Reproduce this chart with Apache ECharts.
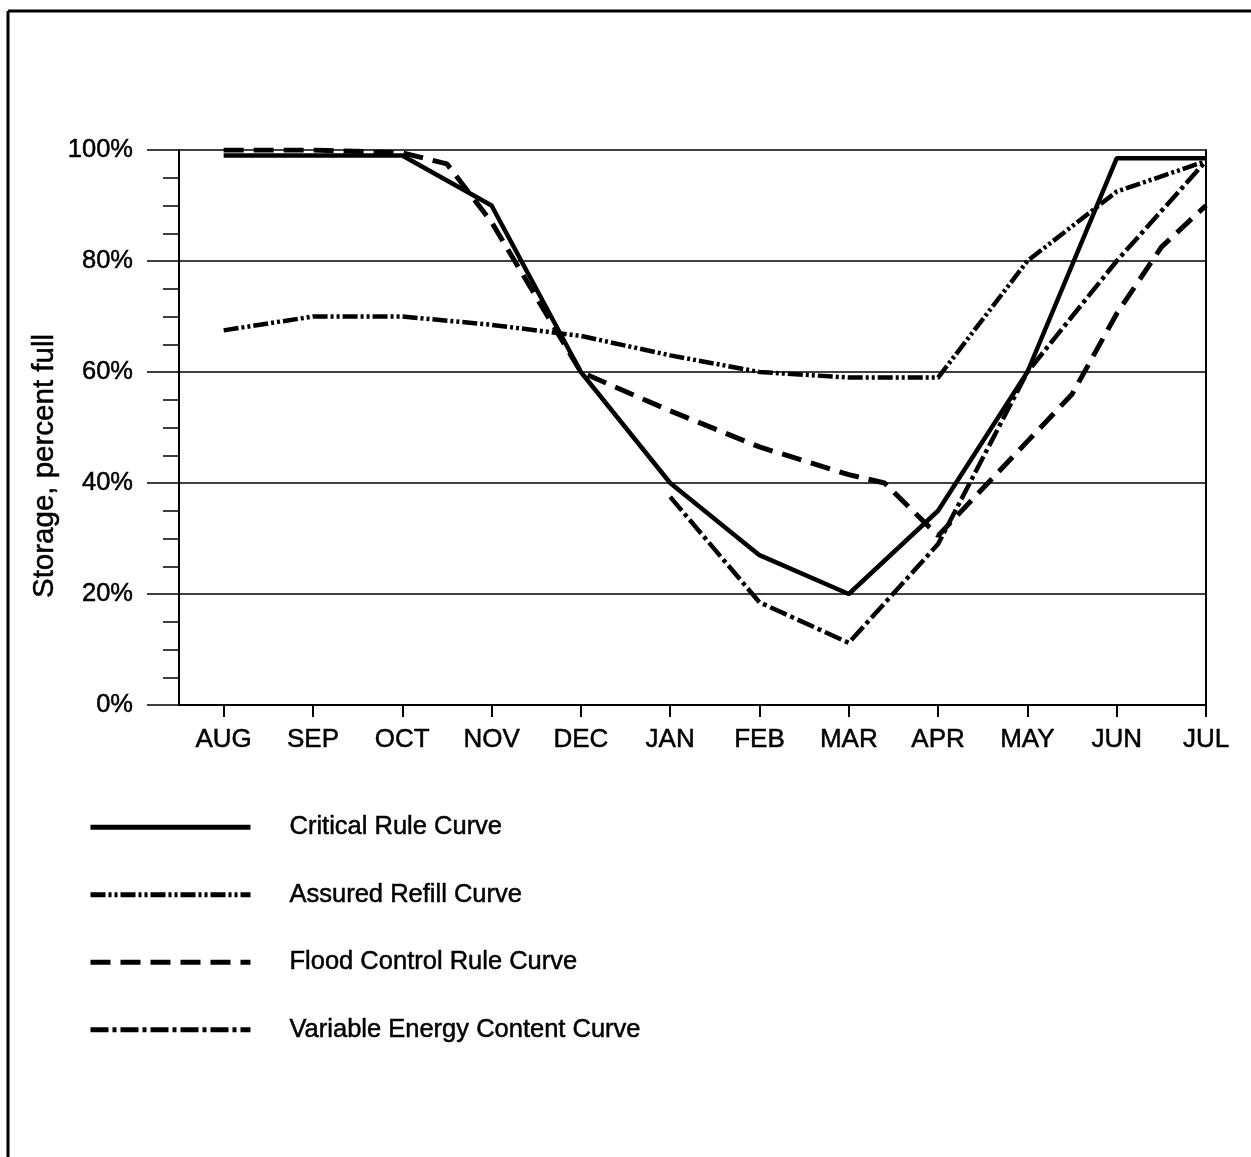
<!DOCTYPE html>
<html>
<head>
<meta charset="utf-8">
<script src="https://cdn.jsdelivr.net/npm/echarts@6/dist/echarts.min.js"></script>
<style>
html,body{margin:0;padding:0;background:#fff;}
#chart{width:1251px;height:1157px;}
</style>
</head>
<body>
<div id="chart"></div>
<script>
// ---- data ----
const months = ['AUG','SEP','OCT','NOV','DEC','JAN','FEB','MAR','APR','MAY','JUN','JUL'];
const monthIdx = [0,1,2,3,4,5,6,7,8,9,10,11];

const criticalRule = [99,99,99,90,60,40,27,20,35,60,98.5,98.5];
const assuredRefill = [67.5,70,70,68.5,66.5,63,60,59,59,80,92.5,98];
// flood control curve: positions in months (0 = AUG) and values
const floodPos = [0,1,2,2.5,3,4,5,6,7,7.4,8,9,9.5,10,10.5,11];
const floodVal = [100,100,99.5,97.5,87,60,53,46.5,41.5,40,30.5,47.5,56,70.5,82.5,90];
// variable energy content curve: JAN..JUL
const vecPos = [5,6,7,8,9,10,11];
const vecVal = [37.5,18.5,11.2,29,60,80,98];

const seriesNames = ['Critical Rule Curve','Assured Refill Curve','Flood Control Rule Curve','Variable Energy Content Curve'];

const pairs = (xs, ys) => xs.map((x, i) => [x, ys[i]]);

const FONT = '"Liberation Sans", Arial, Helvetica, sans-serif';
const TXT = {fontFamily: FONT, color: '#000', textBorderColor: '#000', textBorderWidth: 0.5};
const chart = echarts.init(document.getElementById('chart'));

chart.setOption({
  backgroundColor: '#fff',
  animation: false,
  textStyle: {fontFamily: FONT, color: '#000'},
  grid: {left: 179, right: 45, top: 150, bottom: 452, containLabel: false},
  xAxis: {
    type: 'value', min: -0.5, max: 11,
    axisLine: {show: true, onZero: false, lineStyle: {color: '#000', width: 2}},
    axisTick: {show: true, customValues: monthIdx, length: 12, lineStyle: {color: '#000', width: 2}},
    axisLabel: Object.assign({customValues: monthIdx, formatter: v => months[v], margin: 22, fontSize: 26}, TXT),
    splitLine: {show: false}
  },
  yAxis: [{
    type: 'value', min: 0, max: 100, interval: 20,
    axisLine: {show: true, onZero: false, lineStyle: {color: '#000', width: 2}},
    axisTick: {show: true, length: 32, lineStyle: {color: '#000', width: 1.5}},
    minorTick: {show: true, splitNumber: 4, length: 16, lineStyle: {color: '#000', width: 1.5}},
    splitLine: {show: true, lineStyle: {color: '#000', width: 1.5}},
    axisLabel: Object.assign({formatter: '{value}%', margin: 46, fontSize: 25.5}, TXT)
  }, {
    type: 'value', min: 0, max: 100, position: 'right',
    axisLine: {show: true, onZero: false, lineStyle: {color: '#000', width: 2}},
    axisTick: {show: false}, axisLabel: {show: false}, splitLine: {show: false}
  }],
  legend: {
    orient: 'vertical', left: 88, top: 814, padding: 0,
    itemWidth: 160, itemHeight: 24, itemGap: 41,
    data: seriesNames,
    itemStyle: {opacity: 0},
    lineStyle: {width: 5},
    textStyle: Object.assign({fontSize: 25.5, padding: [0, 0, 0, 34]}, TXT),
    selectedMode: false
  },
  graphic: [
    {type: 'line', shape: {x1: 8, y1: 11, x2: 1251, y2: 11}, style: {stroke: '#000', lineWidth: 3}},
    {type: 'line', shape: {x1: 8, y1: 11, x2: 8, y2: 1157}, style: {stroke: '#000', lineWidth: 3}},
    {type: 'text', x: 45, y: 466, rotation: Math.PI / 2,
     style: {text: 'Storage, percent full', fontSize: 29.5, fontFamily: FONT, fill: '#000', stroke: '#000', lineWidth: 0.5, align: 'center', verticalAlign: 'middle'}}
  ],
  series: [
    {name: seriesNames[0], type: 'line', symbol: 'none', data: pairs(monthIdx, criticalRule),
     lineStyle: {color: '#000', width: 4.5, type: 'solid'}, itemStyle: {color: '#000'}},
    {name: seriesNames[1], type: 'line', symbol: 'none', data: pairs(monthIdx, assuredRefill),
     lineStyle: {color: '#000', width: 4.5, type: [15, 3, 3, 3, 3, 3]}, itemStyle: {color: '#000'}},
    {name: seriesNames[2], type: 'line', symbol: 'none', data: pairs(floodPos, floodVal),
     lineStyle: {color: '#000', width: 5, type: [20, 10]}, itemStyle: {color: '#000'}},
    {name: seriesNames[3], type: 'line', symbol: 'none', data: pairs(vecPos, vecVal),
     lineStyle: {color: '#000', width: 4.5, type: [18, 4, 4, 4]}, itemStyle: {color: '#000'}}
  ]
});
</script>
</body>
</html>
